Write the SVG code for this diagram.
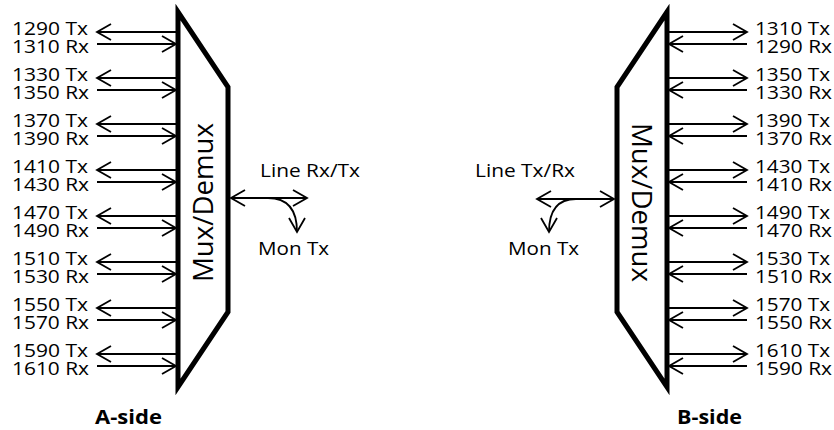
<svg xmlns="http://www.w3.org/2000/svg" width="834" height="430" viewBox="0 0 834 430">
<defs>
<style>
text{font-family:"Open Sans","Noto Sans","Liberation Sans",sans-serif;fill:#000;}
.lbl{font-size:18.5px;}
.mux{font-size:28px;}
.side{font-size:20px;font-weight:bold;}
.mx{fill:#fff;stroke:#000;stroke-width:5;stroke-linejoin:miter;}
.ar{fill:none;stroke:#000;stroke-width:1.8;}
</style>
<marker id="ah" markerUnits="userSpaceOnUse" markerWidth="20" markerHeight="20" refX="0" refY="0" viewBox="-16 -10 20 20" orient="auto-start-reverse">
<path d="M-14,-8 L0,0 L-14,8" fill="none" stroke="#000" stroke-width="1.8"/>
</marker>
</defs>
<rect width="834" height="430" fill="#fff"/>

<g id="mux-a">
<polygon class="mx" points="178,12 228,87 228,312 178,387"/>
<text class="mux" transform="translate(213,202.5) rotate(-90)" text-anchor="middle" textLength="159" lengthAdjust="spacingAndGlyphs">Mux/Demux</text>
</g>
<g id="mux-b">
<polygon class="mx" points="667,12 617,87 617,312 667,387"/>
<text class="mux" transform="translate(632,202.5) rotate(90)" text-anchor="middle" textLength="159" lengthAdjust="spacingAndGlyphs">Mux/Demux</text>
</g>

<g id="connectors">
<path class="ar" marker-end="url(#ah)" d="M176,32H97"/>
<path class="ar" marker-end="url(#ah)" d="M97,44H176"/>
<path class="ar" marker-end="url(#ah)" d="M176,78H97"/>
<path class="ar" marker-end="url(#ah)" d="M97,90H176"/>
<path class="ar" marker-end="url(#ah)" d="M176,124H97"/>
<path class="ar" marker-end="url(#ah)" d="M97,136H176"/>
<path class="ar" marker-end="url(#ah)" d="M176,170H97"/>
<path class="ar" marker-end="url(#ah)" d="M97,182H176"/>
<path class="ar" marker-end="url(#ah)" d="M176,216H97"/>
<path class="ar" marker-end="url(#ah)" d="M97,228H176"/>
<path class="ar" marker-end="url(#ah)" d="M176,262H97"/>
<path class="ar" marker-end="url(#ah)" d="M97,274H176"/>
<path class="ar" marker-end="url(#ah)" d="M176,308H97"/>
<path class="ar" marker-end="url(#ah)" d="M97,320H176"/>
<path class="ar" marker-end="url(#ah)" d="M176,354H97"/>
<path class="ar" marker-end="url(#ah)" d="M97,366H176"/>

<path class="ar" marker-end="url(#ah)" d="M669,32H747"/>
<path class="ar" marker-end="url(#ah)" d="M747,44H669"/>
<path class="ar" marker-end="url(#ah)" d="M669,78H747"/>
<path class="ar" marker-end="url(#ah)" d="M747,90H669"/>
<path class="ar" marker-end="url(#ah)" d="M669,124H747"/>
<path class="ar" marker-end="url(#ah)" d="M747,136H669"/>
<path class="ar" marker-end="url(#ah)" d="M669,170H747"/>
<path class="ar" marker-end="url(#ah)" d="M747,182H669"/>
<path class="ar" marker-end="url(#ah)" d="M669,216H747"/>
<path class="ar" marker-end="url(#ah)" d="M747,228H669"/>
<path class="ar" marker-end="url(#ah)" d="M669,262H747"/>
<path class="ar" marker-end="url(#ah)" d="M747,274H669"/>
<path class="ar" marker-end="url(#ah)" d="M669,308H747"/>
<path class="ar" marker-end="url(#ah)" d="M747,320H669"/>
<path class="ar" marker-end="url(#ah)" d="M669,354H747"/>
<path class="ar" marker-end="url(#ah)" d="M747,366H669"/>

<path class="ar" marker-start="url(#ah)" marker-end="url(#ah)" d="M231,198H307"/>
<path class="ar" marker-end="url(#ah)" d="M268,198 C289,198 297,212 297,232"/>
<path class="ar" marker-start="url(#ah)" marker-end="url(#ah)" d="M537,199H614"/>
<path class="ar" marker-end="url(#ah)" d="M576,199 C556,199 549,212 549,232"/>
</g>

<g id="labels-a">
<text class="lbl" x="12" y="35" textLength="76" lengthAdjust="spacingAndGlyphs">1290 Tx</text>
<text class="lbl" x="12" y="53" textLength="77" lengthAdjust="spacingAndGlyphs">1310 Rx</text>
<text class="lbl" x="12" y="81" textLength="76" lengthAdjust="spacingAndGlyphs">1330 Tx</text>
<text class="lbl" x="12" y="99" textLength="77" lengthAdjust="spacingAndGlyphs">1350 Rx</text>
<text class="lbl" x="12" y="127" textLength="76" lengthAdjust="spacingAndGlyphs">1370 Tx</text>
<text class="lbl" x="12" y="145" textLength="77" lengthAdjust="spacingAndGlyphs">1390 Rx</text>
<text class="lbl" x="12" y="173" textLength="76" lengthAdjust="spacingAndGlyphs">1410 Tx</text>
<text class="lbl" x="12" y="191" textLength="77" lengthAdjust="spacingAndGlyphs">1430 Rx</text>
<text class="lbl" x="12" y="219" textLength="76" lengthAdjust="spacingAndGlyphs">1470 Tx</text>
<text class="lbl" x="12" y="237" textLength="77" lengthAdjust="spacingAndGlyphs">1490 Rx</text>
<text class="lbl" x="12" y="265" textLength="76" lengthAdjust="spacingAndGlyphs">1510 Tx</text>
<text class="lbl" x="12" y="283" textLength="77" lengthAdjust="spacingAndGlyphs">1530 Rx</text>
<text class="lbl" x="12" y="311" textLength="76" lengthAdjust="spacingAndGlyphs">1550 Tx</text>
<text class="lbl" x="12" y="329" textLength="77" lengthAdjust="spacingAndGlyphs">1570 Rx</text>
<text class="lbl" x="12" y="357" textLength="76" lengthAdjust="spacingAndGlyphs">1590 Tx</text>
<text class="lbl" x="12" y="375" textLength="77" lengthAdjust="spacingAndGlyphs">1610 Rx</text>
<text class="lbl" x="260" y="177" textLength="100" lengthAdjust="spacingAndGlyphs">Line Rx/Tx</text>
<text class="lbl" x="258" y="255" textLength="71" lengthAdjust="spacingAndGlyphs">Mon Tx</text>
<text class="side" x="95" y="424" textLength="67" lengthAdjust="spacingAndGlyphs">A-side</text>
</g>

<g id="labels-b">
<text class="lbl" x="755" y="35" textLength="75" lengthAdjust="spacingAndGlyphs">1310 Tx</text>
<text class="lbl" x="755" y="53" textLength="77" lengthAdjust="spacingAndGlyphs">1290 Rx</text>
<text class="lbl" x="755" y="81" textLength="75" lengthAdjust="spacingAndGlyphs">1350 Tx</text>
<text class="lbl" x="755" y="99" textLength="77" lengthAdjust="spacingAndGlyphs">1330 Rx</text>
<text class="lbl" x="755" y="127" textLength="75" lengthAdjust="spacingAndGlyphs">1390 Tx</text>
<text class="lbl" x="755" y="145" textLength="77" lengthAdjust="spacingAndGlyphs">1370 Rx</text>
<text class="lbl" x="755" y="173" textLength="75" lengthAdjust="spacingAndGlyphs">1430 Tx</text>
<text class="lbl" x="755" y="191" textLength="77" lengthAdjust="spacingAndGlyphs">1410 Rx</text>
<text class="lbl" x="755" y="219" textLength="75" lengthAdjust="spacingAndGlyphs">1490 Tx</text>
<text class="lbl" x="755" y="237" textLength="77" lengthAdjust="spacingAndGlyphs">1470 Rx</text>
<text class="lbl" x="755" y="265" textLength="75" lengthAdjust="spacingAndGlyphs">1530 Tx</text>
<text class="lbl" x="755" y="283" textLength="77" lengthAdjust="spacingAndGlyphs">1510 Rx</text>
<text class="lbl" x="755" y="311" textLength="75" lengthAdjust="spacingAndGlyphs">1570 Tx</text>
<text class="lbl" x="755" y="329" textLength="77" lengthAdjust="spacingAndGlyphs">1550 Rx</text>
<text class="lbl" x="755" y="357" textLength="75" lengthAdjust="spacingAndGlyphs">1610 Tx</text>
<text class="lbl" x="755" y="375" textLength="77" lengthAdjust="spacingAndGlyphs">1590 Rx</text>
<text class="lbl" x="475" y="177" textLength="100" lengthAdjust="spacingAndGlyphs">Line Tx/Rx</text>
<text class="lbl" x="508" y="255" textLength="71" lengthAdjust="spacingAndGlyphs">Mon Tx</text>
<text class="side" x="677" y="424" textLength="65" lengthAdjust="spacingAndGlyphs">B-side</text>
</g>
</svg>
